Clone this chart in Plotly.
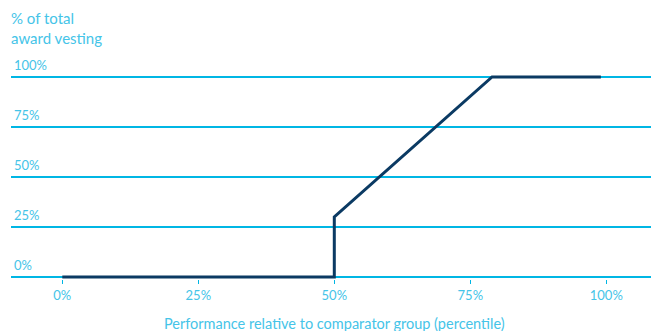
import plotly.graph_objects as go

# Data
performance = [0, 50, 50, 79, 99]          # percentile
vesting = [0, 0, 30, 100, 100]             # % of award vesting
x_ticks = [0, 25, 50, 75, 100]
x_tick_labels = ["0%", "25%", "50%", "75%", "100%"]
y_ticks = [0, 25, 50, 75, 100]
y_tick_labels = ["0%", "25%", "50%", "75%", "100%"]

FONT = "Lato"
TEXT = "#45c4e8"
GRID = "rgb(0,182,228)"
LINE = "#0b3a63"

W, H = 651, 331
ml, mr, mt, mb = 11, 0, 50, 52
plot_w = W - ml - mr
plot_h = H - mt - mb
px_per_x = 5.44
x0 = -(62.3 - ml) / px_per_x
x1 = x0 + plot_w / px_per_x
px_per_y = 2.0
zero_pix = 277.0
y_top = (zero_pix - mt) / px_per_y
y_bot = -((H - mb) - zero_pix) / px_per_y

fig = go.Figure()
fig.add_trace(go.Scatter(
    x=performance, y=vesting, mode="lines",
    line=dict(color=LINE, width=3), hoverinfo="skip", showlegend=False,
))

fig.update_layout(
    template="none",
    width=W, height=H,
    margin=dict(l=ml, r=mr, t=mt, b=mb, pad=0),
    paper_bgcolor="white", plot_bgcolor="white",
    font=dict(family=FONT, color=TEXT, size=13),
    xaxis=dict(
        range=[x0, x1], tickvals=x_ticks, ticktext=x_tick_labels,
        showgrid=False, zeroline=False, showline=False,
        ticks="outside", ticklen=4, tickcolor=GRID, tickwidth=1.2,
        tickfont=dict(size=13, color=TEXT, family=FONT),
        fixedrange=True,
    ),
    yaxis=dict(
        range=[y_bot, y_top], tickvals=y_ticks, ticktext=y_tick_labels,
        showgrid=True, gridcolor=GRID, gridwidth=1.8,
        zeroline=False, showline=False, ticks="",
        ticklabelposition="inside top", ticklabelshift=-2,
        tickfont=dict(size=13, color=TEXT, family=FONT),
        fixedrange=True,
    ),
    annotations=[
        dict(text="% of total<br>award vesting", xref="paper", yref="paper",
             x=-0.003, y=1 + (mt - 7) / plot_h, xanchor="left", yanchor="top",
             align="left", showarrow=False,
             font=dict(size=15, color=TEXT, family=FONT)),
        dict(text="Performance relative to comparator group (percentile)",
             xref="x", yref="paper", x=50, y=-(323 - (H - mb)) / plot_h,
             xanchor="center", yanchor="middle", showarrow=False,
             font=dict(size=14.5, color=TEXT, family=FONT)),
    ],
)

fig.write_html("out.html", config={"staticPlot": True})
